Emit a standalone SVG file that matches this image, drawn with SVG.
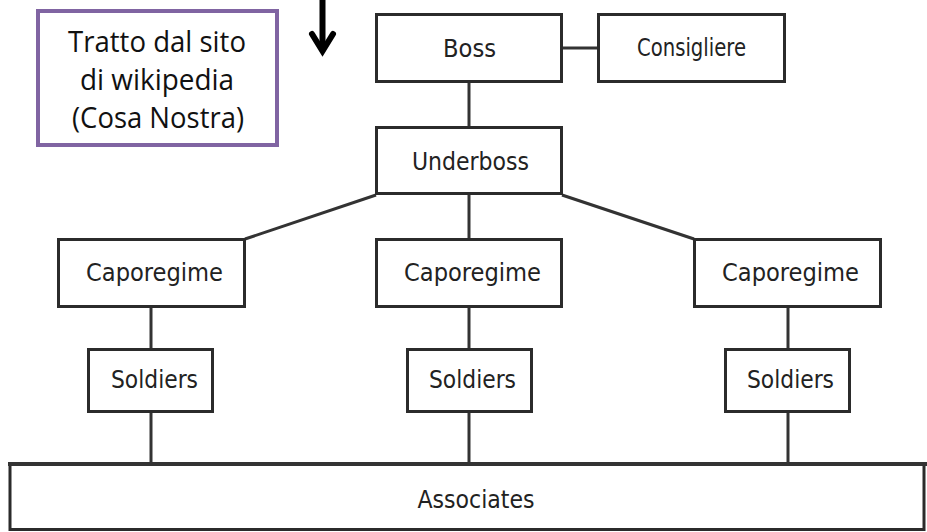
<svg xmlns="http://www.w3.org/2000/svg" width="927" height="532" viewBox="0 0 927 532">
  <style>
    .box { fill: #ffffff; stroke: #2b2b2b; stroke-width: 3; }
    .lbl { font-family: "DejaVu Sans Condensed", "DejaVu Sans", sans-serif; font-size: 24px; fill: #222222; text-anchor: middle; }
    .link { stroke: #333333; stroke-width: 3; fill: none; }
    .note { font-family: "Open Sans", "Noto Sans", sans-serif; font-size: 29px; fill: #111111; text-anchor: middle; }
  </style>
  <rect width="927" height="532" fill="#ffffff"/>

  <!-- connectors -->
  <g id="connectors">
    <line class="link" x1="563" y1="48" x2="597" y2="48"/>
    <line class="link" x1="469" y1="83" x2="469" y2="126"/>
    <line class="link" x1="469" y1="195" x2="469" y2="238"/>
    <line class="link" x1="376" y1="195" x2="245" y2="239"/>
    <line class="link" x1="562" y1="195" x2="694" y2="239"/>
    <line class="link" x1="151" y1="308" x2="151" y2="348"/>
    <line class="link" x1="469" y1="308" x2="469" y2="348"/>
    <line class="link" x1="788" y1="308" x2="788" y2="348"/>
    <line class="link" x1="151" y1="413" x2="151" y2="463"/>
    <line class="link" x1="469" y1="413" x2="469" y2="463"/>
    <line class="link" x1="788" y1="413" x2="788" y2="463"/>
  </g>

  <!-- note box -->
  <g id="note">
    <rect x="38" y="11" width="239" height="134" fill="#ffffff" stroke="#8064a2" stroke-width="4"/>
    <text class="note" x="157" y="52" textLength="178" lengthAdjust="spacingAndGlyphs">Tratto dal sito</text>
    <text class="note" x="157" y="90" textLength="154" lengthAdjust="spacingAndGlyphs">di wikipedia</text>
    <text class="note" x="158" y="128" textLength="172" lengthAdjust="spacingAndGlyphs">(Cosa Nostra)</text>
  </g>

  <!-- downward arrow -->
  <g id="arrow" fill="none" stroke="#000000" stroke-width="6" stroke-linejoin="miter" stroke-linecap="round">
    <line x1="322.5" y1="0" x2="322.5" y2="49"/>
    <polyline points="312,34 322.5,51 333,34"/>
  </g>

  <g id="boss">
    <rect class="box" x="376.5" y="14.5" width="185" height="67"/>
    <text class="lbl" x="469.5" y="57" textLength="53" lengthAdjust="spacingAndGlyphs">Boss</text>
  </g>
  <g id="consigliere">
    <rect class="box" x="598.5" y="14.5" width="186" height="67"/>
    <text class="lbl" x="691.5" y="56" textLength="109" lengthAdjust="spacingAndGlyphs">Consigliere</text>
  </g>
  <g id="underboss">
    <rect class="box" x="376.5" y="127.5" width="185" height="66"/>
    <text class="lbl" x="470.5" y="170" textLength="117" lengthAdjust="spacingAndGlyphs">Underboss</text>
  </g>

  <g id="caporegime-1">
    <rect class="box" x="58.5" y="239.5" width="186" height="67"/>
    <text class="lbl" x="154.5" y="281" textLength="137" lengthAdjust="spacingAndGlyphs">Caporegime</text>
  </g>
  <g id="caporegime-2">
    <rect class="box" x="376.5" y="239.5" width="185" height="67"/>
    <text class="lbl" x="472.5" y="281" textLength="137" lengthAdjust="spacingAndGlyphs">Caporegime</text>
  </g>
  <g id="caporegime-3">
    <rect class="box" x="694.5" y="239.5" width="186" height="67"/>
    <text class="lbl" x="790.5" y="281" textLength="137" lengthAdjust="spacingAndGlyphs">Caporegime</text>
  </g>

  <g id="soldiers-1">
    <rect class="box" x="88.5" y="349.5" width="124" height="62"/>
    <text class="lbl" x="154.5" y="388" textLength="87" lengthAdjust="spacingAndGlyphs">Soldiers</text>
  </g>
  <g id="soldiers-2">
    <rect class="box" x="407.5" y="349.5" width="124" height="62"/>
    <text class="lbl" x="472.5" y="388" textLength="87" lengthAdjust="spacingAndGlyphs">Soldiers</text>
  </g>
  <g id="soldiers-3">
    <rect class="box" x="725.5" y="349.5" width="124" height="62"/>
    <text class="lbl" x="790.5" y="388" textLength="87" lengthAdjust="spacingAndGlyphs">Soldiers</text>
  </g>

  <g id="associates">
    <rect class="box" x="10" y="464.5" width="914" height="65"/>
    <line x1="8" y1="464" x2="927" y2="464" stroke="#333333" stroke-width="4"/>
    <text class="lbl" x="476" y="508" textLength="117" lengthAdjust="spacingAndGlyphs">Associates</text>
  </g>
</svg>
